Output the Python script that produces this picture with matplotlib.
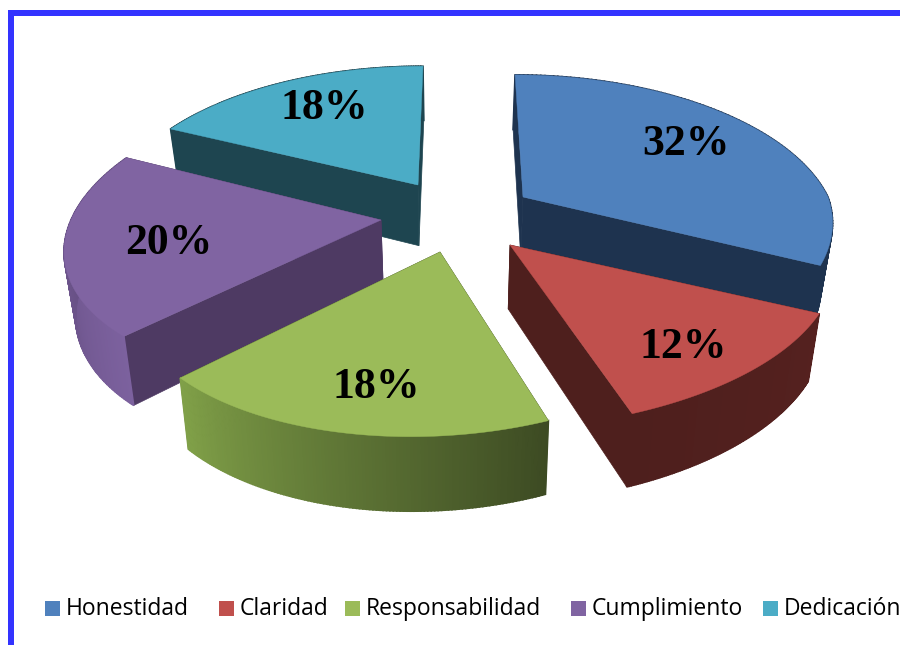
import matplotlib
matplotlib.use("Agg")
import matplotlib.pyplot as plt
import matplotlib.patches as patches
from matplotlib.colors import to_rgb
import numpy as np

labels = ["Honestidad", "Claridad", "Responsabilidad", "Cumplimiento", "Dedicación"]
values = [32, 12, 18, 20, 18]

colors = ["#4F81BD", "#C0504D", "#9BBB59", "#8064A2", "#4BACC6"]
wall_colors = ["#1E334F", "#4E1F1D", "#3D4B23", "#4E3A63", "#1E4550"]
# outer wall gradient, start of slice -> end of slice
rim_colors = [("#1E334F", "#1E334F"), ("#55211F", "#4E1F1D"),
              ("#3D4B23", "#80A048"), ("#7C619E", "#5A4575"), ("#1E4550", "#1E4550")]
# where each slice tip ends up after exploding
tips = [(523, 197), (510, 245), (440, 252), (381, 220), (418, 185)]
label_pos = [(686, 144), (683, 347), (376, 387), (169, 243), (324, 108)]
legend_box_x = [45, 219, 345, 571, 763]

# the 3D view is a bit different per slice
radius_x = [305, 322, 298, 310, 300]
radius_y = [147, 147, 147, 151, 143]
persp = [0.204, 0.204, 0.204, 0.075, 0.204]
skew_up = [0.065, 0, 0, -0.28, -0.042]
skew_low = [-0.07, -0.143, -0.16, -0.28, 0]


def arc_points(i, a):
    scale = 1 / (1 + persp[i] * np.sin(a))
    dx = radius_x[i] * np.cos(a) * scale
    dy = -radius_y[i] * np.sin(a) * scale
    shear = np.where(dy < 0, skew_up[i], skew_low[i]) * dy
    return tips[i][0] + dx + shear, tips[i][1] + dy


def drop(x, y):
    # bottom rim point for a top rim point
    return x + (450 - x) * 0.03, y + 56 + (y - 100) * 0.055


fig = plt.figure(figsize=(9, 6.45), dpi=100)
ax = fig.add_axes([0, 0, 1, 1])
ax.set_xlim(0, 900)
ax.set_ylim(645, 0)
ax.axis("off")

ax.add_patch(patches.Rectangle((8, 10), 6, 640, color="#3333FF", lw=0))
ax.add_patch(patches.Rectangle((8, 10), 900, 6, color="#3333FF", lw=0))

angles = 90 - np.cumsum([0] + values) * 3.6
order = [4, 0, 3, 1, 2]

for i in order:
    a = np.radians(np.linspace(angles[i], angles[i + 1], 120))
    tip = tips[i]
    x, y = arc_points(i, a)
    bx, by = drop(x, y)
    tx, ty = drop(np.array(tip[0], float), np.array(tip[1], float))

    # radial walls
    ax.fill([tip[0], x[0], bx[0], tx], [tip[1], y[0], by[0], ty], color=wall_colors[i], lw=0.5)
    ax.fill([tip[0], x[-1], bx[-1], tx], [tip[1], y[-1], by[-1], ty], color=wall_colors[i], lw=0.5)

    # outer wall, small quads so the shade can change along the arc
    c0, c1 = np.array(to_rgb(rim_colors[i][0])), np.array(to_rgb(rim_colors[i][1]))
    for j in range(len(a) - 1):
        t = j / (len(a) - 2)
        ax.fill([x[j], x[j + 1], bx[j + 1], bx[j]], [y[j], y[j + 1], by[j + 1], by[j]],
                color=c0 + (c1 - c0) * t, lw=1.2)

    ax.fill(np.r_[tip[0], x], np.r_[tip[1], y], color=colors[i], lw=0.3)

    pos = label_pos[i]
    ax.text(pos[0], pos[1], f"{values[i]}%", ha="center", va="center", fontsize=31.5,
            fontweight="bold", family="Liberation Serif", color="black")

for i in range(len(labels)):
    ax.add_patch(patches.Rectangle((legend_box_x[i], 601), 15, 15, color=colors[i], lw=0))
    ax.text(legend_box_x[i] + 21, 615, labels[i], ha="left", va="baseline", fontsize=16.5,
            family="Open Sans", color="black")

fig.savefig("out.png", dpi=100)
